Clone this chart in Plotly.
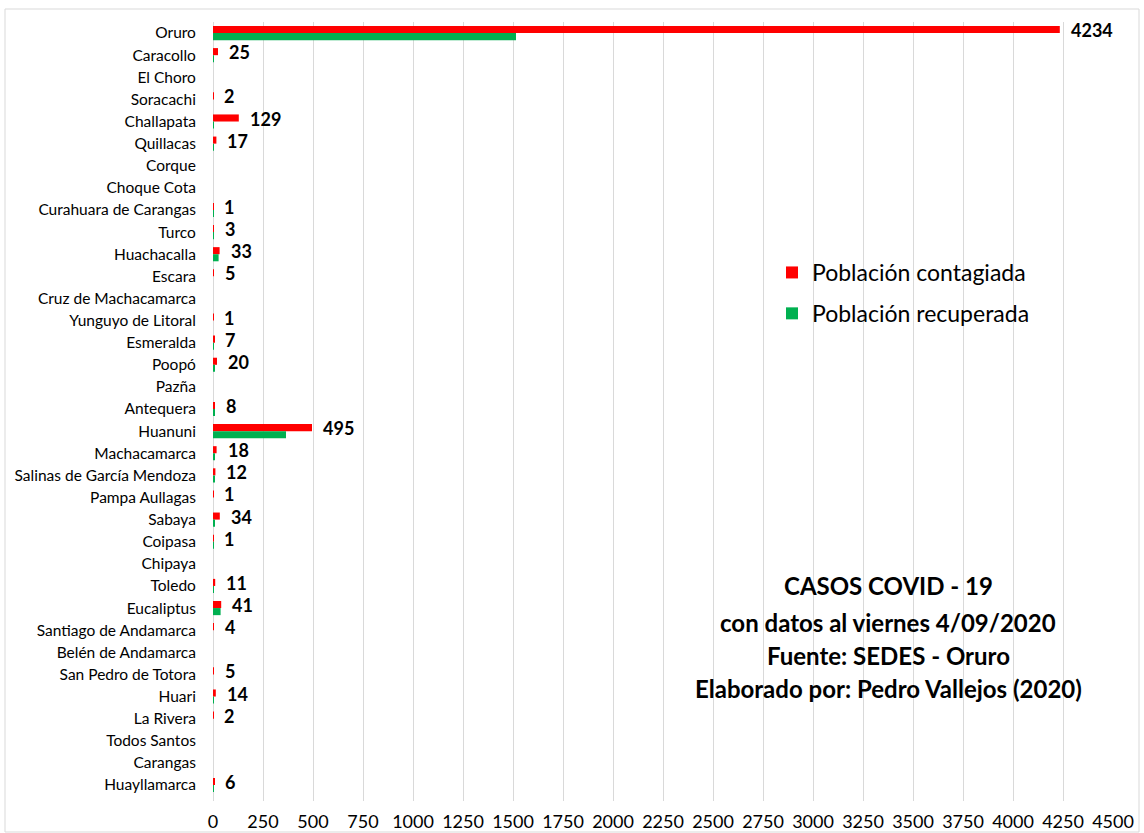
import plotly.graph_objects as go

municipios = ["Oruro", "Caracollo", "El Choro", "Soracachi", "Challapata", "Quillacas", "Corque",
              "Choque Cota", "Curahuara de Carangas", "Turco", "Huachacalla", "Escara",
              "Cruz de Machacamarca", "Yunguyo de Litoral", "Esmeralda", "Poopó", "Pazña",
              "Antequera", "Huanuni", "Machacamarca", "Salinas de García Mendoza",
              "Pampa Aullagas", "Sabaya", "Coipasa", "Chipaya", "Toledo", "Eucaliptus",
              "Santiago de Andamarca", "Belén de Andamarca", "San Pedro de Totora", "Huari",
              "La Rivera", "Todos Santos", "Carangas", "Huayllamarca"]
contagiada = [4234, 25, 0, 2, 129, 17, 0, 0, 1, 3, 33, 5, 0, 1, 7, 20, 0, 8, 495, 18, 12, 1,
              34, 1, 0, 11, 41, 4, 0, 5, 14, 2, 0, 0, 6]
recuperada = [1515, 5, 0, 0, 5, 5, 0, 0, 1, 3, 28, 0, 0, 0, 5, 7, 0, 6, 365, 7, 7, 0,
              7, 1, 0, 5, 38, 0, 0, 0, 5, 0, 0, 0, 5]
x_ticks = list(range(0, 4501, 250))
titulo = ["CASOS COVID - 19", "con datos al viernes 4/09/2020", "Fuente: SEDES - Oruro",
          "Elaborado por: Pedro Vallejos (2020)"]

FONT = "Lato"
L, R, T, B = 213, 1113, 22, 801
W, H = R - L, B - T

fig = go.Figure()
fig.add_trace(go.Bar(y=municipios, x=contagiada, orientation="h", name="Población contagiada",
                     marker=dict(color="#ff0000", line=dict(width=0)), legendgroup="a"))
fig.add_trace(go.Bar(y=municipios, x=recuperada, orientation="h", name="Población recuperada",
                     marker=dict(color="#00b050", line=dict(width=0)), legendgroup="b"))

for m, v in zip(municipios, contagiada):
    if v > 0:
        fig.add_annotation(x=v, y=m, text=f"<b>{v}</b>", showarrow=False, xanchor="left",
                           xshift=9, yshift=3, font=dict(family=FONT, size=18, color="#000000"))

title_y = [585, 622, 655, 688]
for t, py in zip(titulo, title_y):
    fig.add_annotation(xref="paper", yref="paper", x=(888 - L) / W, y=(B - py) / H,
                       text=f"<b>{t}</b>", showarrow=False, xanchor="center", yanchor="middle",
                       font=dict(family=FONT, size=24, color="#000000"))

fig.add_shape(type="rect", xref="paper", yref="paper",
              x0=(5 - L) / W, x1=(1139 - L) / W,
              y0=(B - 832) / H, y1=(B - 9) / H,
              line=dict(color="#d9d9d9", width=1), fillcolor="rgba(0,0,0,0)", layer="below")

fig.update_layout(
    width=1144, height=833,
    margin=dict(l=L, r=1144 - R, t=T, b=833 - B, autoexpand=False),
    barmode="group", bargap=0.36, bargroupgap=0,
    plot_bgcolor="white", paper_bgcolor="white",
    font=dict(family=FONT, color="#000000"),
    showlegend=True,
    legend=dict(x=(772 - L) / W, y=(B - 251) / H, xanchor="left", yanchor="top",
                font=dict(family=FONT, size=23, color="#000000"), tracegroupgap=8,
                bgcolor="rgba(0,0,0,0)", itemwidth=30),
    xaxis=dict(range=[0, 4500], tickvals=x_ticks, showgrid=True, gridcolor="#d9d9d9",
               gridwidth=1, zeroline=True, zerolinecolor="#d9d9d9", zerolinewidth=1,
               showline=False, ticks="outside", ticklen=4, tickcolor="rgba(0,0,0,0)",
               automargin=False,
               tickfont=dict(family=FONT, size=18, color="#000000"), fixedrange=True),
    yaxis=dict(categoryorder="array", categoryarray=municipios, autorange="reversed",
               showgrid=False, showline=False, ticks="outside", ticklen=13, automargin=False,
               tickcolor="rgba(0,0,0,0)", tickfont=dict(family=FONT, size=15.5, color="#000000")),
)

post = ("document.body.style.margin='0';document.body.style.padding='0';"
        "document.documentElement.style.margin='0';"
        "var d=document.querySelector('.plotly-graph-div');"
        "if(d&&d.parentElement){d.parentElement.style.margin='0';d.parentElement.style.lineHeight='0';}")
fig.write_html("out.html", post_script=post, config={"displayModeBar": False})
